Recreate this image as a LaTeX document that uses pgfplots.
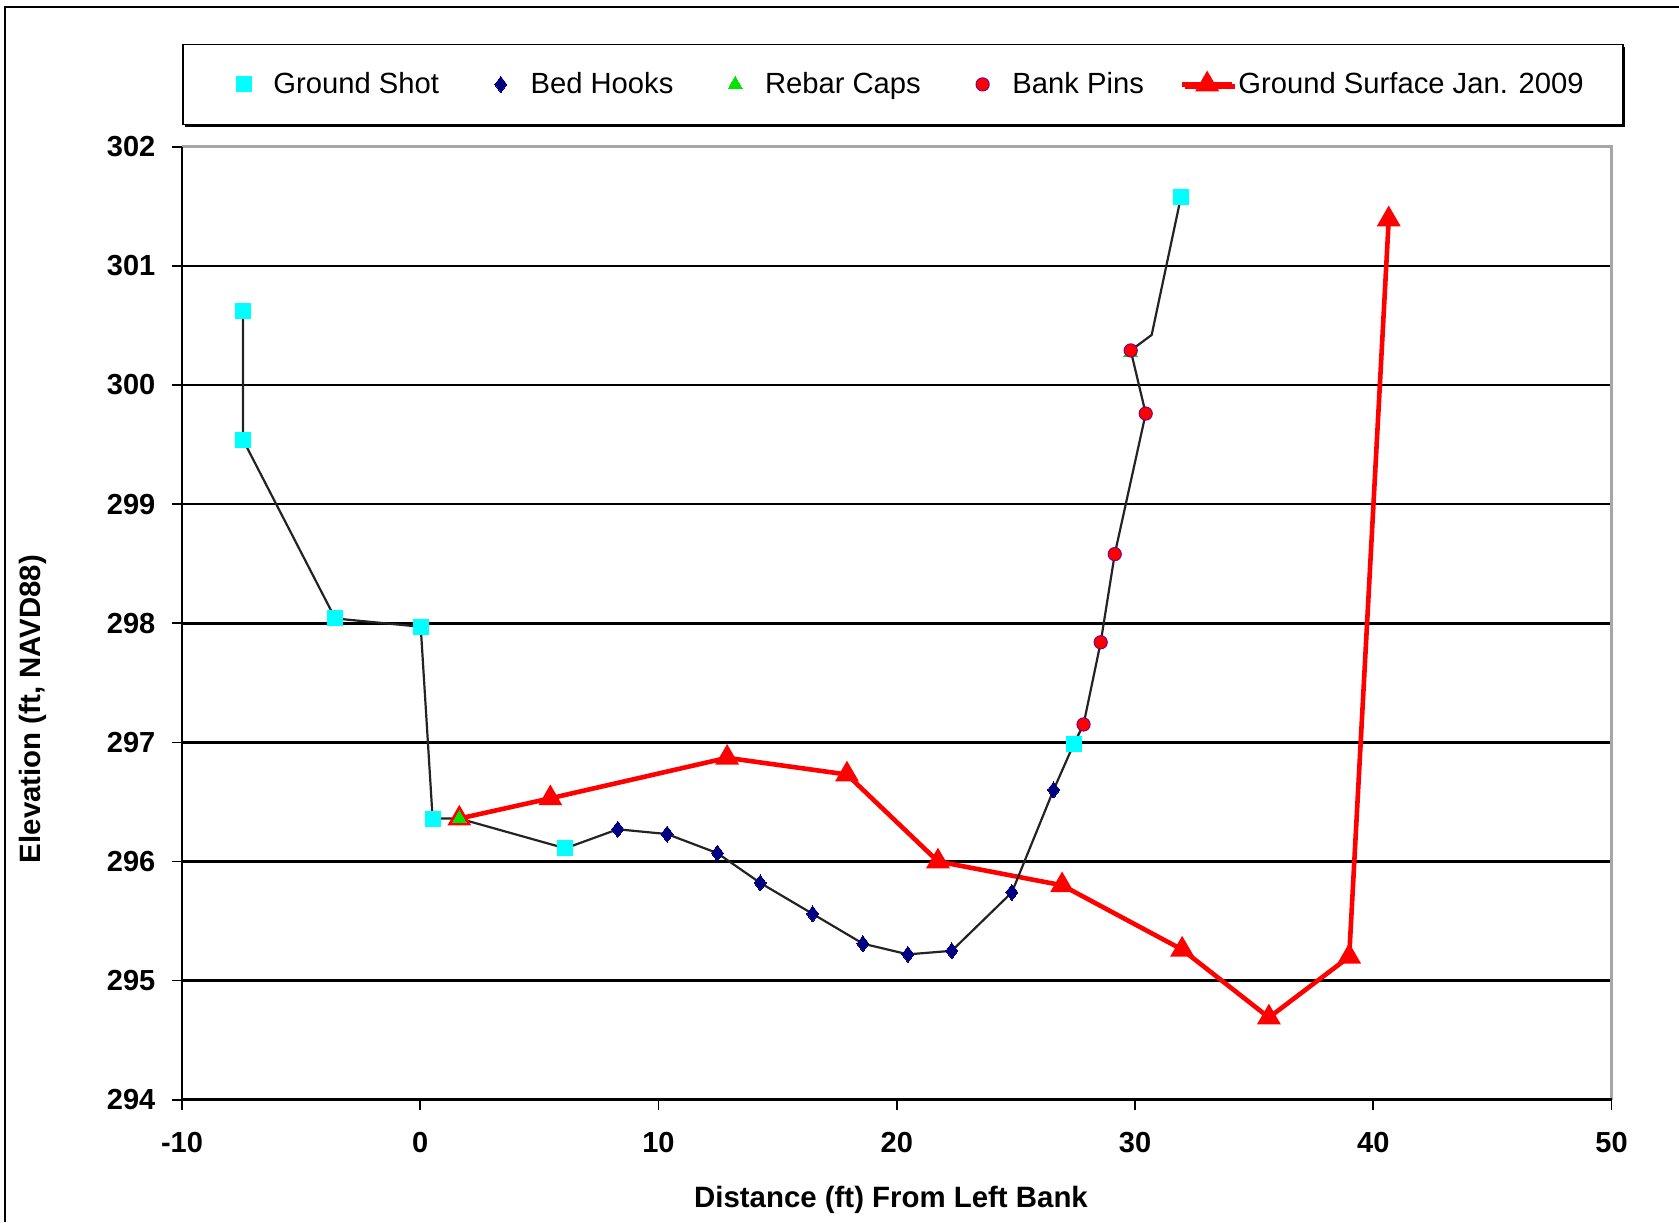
\documentclass[border=0pt]{standalone}
\usepackage{pgfplots}
\pgfplotsset{compat=1.18}
\usepackage{fontspec}
\setmainfont{Liberation Sans}
\usetikzlibrary{shadows}

\definecolor{shotcyan}{RGB}{0,255,255}
\definecolor{hooknavy}{RGB}{0,0,128}
\definecolor{capgreen}{RGB}{0,230,0}
\definecolor{pinred}{RGB}{255,0,0}
\definecolor{pinedge}{RGB}{128,0,128}
\definecolor{surfred}{RGB}{255,0,0}
\definecolor{profile}{RGB}{35,35,35}

\begin{document}
\begin{tikzpicture}[x=1pt,y=1pt]
\begin{axis}[
  at={(91pt,61.15pt)}, anchor=south west,
  scale only axis, width=714.75pt, height=476.5pt,
  xmin=-10, xmax=50, ymin=294, ymax=302,
  xtick={-10,0,...,50}, ytick={294,...,302},
  xtick pos=left, ytick pos=left,
  tick align=outside, major tick length=5pt,
  every tick/.style={black, line width=0.8pt},
  axis line style={draw=none},
  extra y ticks={295,...,301}, extra y tick labels={},
  extra y tick style={grid=major, major tick length=0pt},
  y grid style={black, line width=1.3pt},
  /pgf/number format/assume math mode=true,
  ticklabel style={font=\fontsize{14.5}{17}\selectfont\bfseries},
  yticklabel style={xshift=-4.8pt},
  xticklabel style={yshift=-7.5pt},
  xlabel={Distance (ft) From Left Bank},
  xlabel style={font=\fontsize{14.7}{17}\selectfont\bfseries,
    at={(axis description cs:0.496,-0.1049)}, anchor=center},
  ylabel={Elevation (ft, NAVD88)},
  ylabel style={font=\fontsize{14.7}{17}\selectfont\bfseries,
    at={(axis description cs:-0.1040,0.41)}, anchor=center},
  legend columns=5,
  legend image code/.code={\path (0pt,0pt) (25pt,0pt);
    \draw[mark repeat=2,mark phase=2,#1]
    plot coordinates {(0pt,0pt) (12.5pt,0pt) (25pt,0pt)};},
  legend style={at={(axis description cs:0,1.0225)}, anchor=south west,
    draw=black, line width=0.8pt, fill=white,
    drop shadow={shadow xshift=1.2pt, shadow yshift=-1.2pt, fill=black, opacity=1},
    inner xsep=17.5pt, inner ysep=12pt,
    font=\fontsize{14.6}{17}\selectfont,
    /tikz/every even column/.append style={column sep=16pt}},
  after end axis/.code={
    \draw[gray!70, line width=1.4pt] (rel axis cs:0,1) -- (rel axis cs:1,1) -- (rel axis cs:1,0);
    \draw[black, line width=1.6pt] (rel axis cs:0,0) -- (rel axis cs:1,0);
    \draw[black, line width=1pt] (rel axis cs:0,0) -- (rel axis cs:0,1);
  },
]

% Jan. 2009 ground surface survey
\addplot[surfred, line width=2.3pt, mark=triangle*, mark size=4.6pt, forget plot]
  coordinates {
    (1.64,296.36) (5.46,296.53) (12.88,296.87) (17.91,296.73) (21.73,296.00)
    (26.94,295.80) (31.98,295.26) (35.62,294.69) (38.99,295.20) (40.65,301.39)
  };

% cross-section profile through all surveyed points
\addplot[profile, line width=1.1pt, mark=none, forget plot]
  coordinates {
    (-7.44,300.62) (-7.44,299.54) (-3.57,298.04) (0.02,297.97) (0.52,296.36)
    (1.64,296.36) (6.09,296.11) (8.29,296.27) (10.36,296.23) (12.47,296.07)
    (14.27,295.82) (16.47,295.56) (18.58,295.31) (20.47,295.22) (22.31,295.25)
    (24.83,295.74) (26.58,296.60) (27.44,296.99) (27.84,297.15) (28.56,297.84)
    (29.15,298.58) (30.45,299.76) (29.82,300.29) (30.70,300.42) (31.93,301.58)
  };

\addplot[only marks, mark=square*, mark size=3.75pt,
  mark options={draw=shotcyan, fill=shotcyan, line width=0pt}]
  coordinates {
    (-7.44,300.62) (-7.44,299.54) (-3.57,298.04) (0.02,297.97) (0.52,296.36)
    (6.09,296.11) (27.44,296.99) (31.93,301.58)
  };
\addlegendentry{Ground Shot}

\addplot[only marks, mark=diamond*, mark size=4pt,
  mark options={draw=hooknavy, fill=hooknavy, line width=0pt}]
  coordinates {
    (8.29,296.27) (10.36,296.23) (12.47,296.07) (14.27,295.82) (16.47,295.56)
    (18.58,295.31) (20.47,295.22) (22.31,295.25) (24.83,295.74) (26.58,296.60)
  };
\addlegendentry{Bed Hooks}

\addplot[only marks, mark=triangle*, mark size=4pt,
  mark options={draw=capgreen, fill=capgreen, line width=0pt}]
  coordinates {(1.64,296.36) (29.82,300.27)};
\addlegendentry{Rebar Caps}

\addplot[only marks, mark=*, mark size=3.3pt,
  mark options={draw=pinedge, line width=0.5pt, fill=pinred}]
  coordinates {
    (27.84,297.15) (28.56,297.84) (29.15,298.58) (30.45,299.76) (29.82,300.29)
  };
\addlegendentry{Bank Pins}

\addlegendimage{surfred, line width=2.3pt, mark=triangle*, mark size=4.6pt}
\addlegendentry{Ground Surface Jan. 2009}
\end{axis}

% chart area frame
\draw[black, line width=1.2pt] (2.5,0) -- (2.5,607.5) -- (839.5,607.5);
\pgfresetboundingbox
\useasboundingbox (0,0) rectangle (839.5,611);
\end{tikzpicture}
\end{document}
